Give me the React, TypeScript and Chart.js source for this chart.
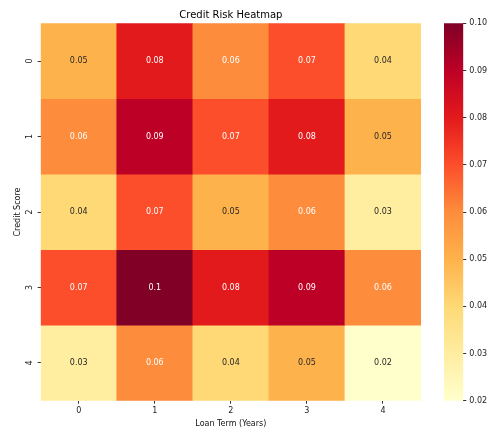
import React, { useEffect, useRef } from "react";
import { Chart, registerables } from "chart.js";

Chart.register(...registerables);

const xLabels = ["0", "1", "2", "3", "4"];
const yLabels = ["0", "1", "2", "3", "4"];
const row0 = [0.05, 0.08, 0.06, 0.07, 0.04];
const row1 = [0.06, 0.09, 0.07, 0.08, 0.05];
const row2 = [0.04, 0.07, 0.05, 0.06, 0.03];
const row3 = [0.07, 0.1, 0.08, 0.09, 0.06];
const row4 = [0.03, 0.06, 0.04, 0.05, 0.02];
const rows = [row0, row1, row2, row3, row4];
const cbarTicks = [0.02, 0.03, 0.04, 0.05, 0.06, 0.07, 0.08, 0.09, 0.1];
const vmin = 0.02;
const vmax = 0.1;
const stops = ["#ffffcc", "#ffeda0", "#fed976", "#feb24c", "#fd8d3c", "#fc4e2a", "#e31a1c", "#bd0026", "#800026"];

const FONT = "'DejaVu Sans', sans-serif";

function hexToRgb(h: string) {
  return [parseInt(h.slice(1, 3), 16), parseInt(h.slice(3, 5), 16), parseInt(h.slice(5, 7), 16)];
}

function colorRgb(v: number) {
  let t = (v - vmin) / (vmax - vmin);
  t = Math.max(0, Math.min(1, t));
  const pos = t * (stops.length - 1);
  const i = Math.min(Math.floor(pos), stops.length - 2);
  const f = pos - i;
  const a = hexToRgb(stops[i]);
  const b = hexToRgb(stops[i + 1]);
  return [0, 1, 2].map((k) => Math.round(a[k] + (b[k] - a[k]) * f));
}

function colorFor(v: number) {
  const c = colorRgb(v);
  return `rgb(${c[0]},${c[1]},${c[2]})`;
}

function textColorFor(v: number) {
  const c = colorRgb(v).map((x) => {
    const s = x / 255;
    return s <= 0.03928 ? s / 12.92 : Math.pow((s + 0.055) / 1.055, 2.4);
  });
  const lum = 0.2126 * c[0] + 0.7152 * c[1] + 0.0722 * c[2];
  return lum > 0.408 ? "#262626" : "#ffffff";
}

const annotPlugin = {
  id: "annot",
  afterDatasetsDraw(chart: any) {
    const ctx = chart.ctx;
    ctx.save();
    ctx.font = `8px ${FONT}`;
    ctx.textAlign = "center";
    ctx.textBaseline = "middle";
    chart.data.datasets.forEach((ds: any, di: number) => {
      const meta = chart.getDatasetMeta(di);
      meta.data.forEach((el: any, i: number) => {
        const p = el.getProps(["x", "y", "base"], true);
        const v = rows[di][i];
        ctx.fillStyle = textColorFor(v);
        ctx.fillText(String(v), p.x, (p.y + p.base) / 2);
      });
    });
    ctx.restore();
  },
};

export default function App() {
  const mainRef = useRef<HTMLCanvasElement>(null);
  const cbarRef = useRef<HTMLCanvasElement>(null);

  useEffect(() => {
    Chart.defaults.font.family = FONT;
    const main = new Chart(mainRef.current!, {
      type: "bar",
      data: {
        labels: xLabels,
        datasets: rows.map((row, r) => ({
          label: yLabels[r],
          data: row.map(() => [r, r + 1]),
          backgroundColor: row.map((v) => colorFor(v)),
          borderWidth: 0,
          barPercentage: 1,
          categoryPercentage: 1,
          grouped: false,
        })) as any,
      },
      options: {
        responsive: false,
        animation: false,
        layout: { padding: { left: 0, top: 0, right: 68, bottom: 0 } },
        plugins: {
          legend: { display: false },
          tooltip: { enabled: false },
          title: {
            display: true,
            text: "Credit Risk Heatmap",
            fullSize: false,
            color: "#000",
            font: { size: 10, weight: "normal", family: FONT },
            padding: { top: 9, bottom: 2.3 },
          },
        },
        scales: {
          x: {
            type: "category",
            offset: true,
            grid: { display: true, drawOnChartArea: false, drawTicks: true, tickLength: 3, offset: false, color: "#333", tickColor: "#333" },
            border: { display: false },
            ticks: { color: "#222", font: { size: 8, family: FONT }, padding: 2, maxRotation: 0, minRotation: 0 },
            title: { display: true, text: "Loan Term (Years)", color: "#111", font: { size: 8, family: FONT }, padding: { top: 0, bottom: 2.7 } },
            afterFit: (s: any) => { s.height = 30.3; },
          },
          y: {
            type: "linear",
            min: 0,
            max: 5,
            reverse: true,
            afterBuildTicks: (s: any) => { s.ticks = yLabels.map((_, i) => ({ value: i + 0.5 })); },
            grid: { display: true, drawOnChartArea: false, drawTicks: true, tickLength: 3, offset: false, color: "#333", tickColor: "#333" },
            border: { display: false },
            ticks: {
              color: "#222",
              font: { size: 8, family: FONT },
              padding: 5.7,
              minRotation: 90,
              maxRotation: 90,
              crossAlign: "center",
              autoSkip: false,
              callback: (v: any) => yLabels[Math.floor(Number(v))],
            },
            title: { display: true, text: "Credit Score", color: "#111", font: { size: 8, family: FONT }, padding: { top: 13, bottom: 0 } },
            afterFit: (s: any) => { s.width = 40.7; },
          },
        },
      } as any,
      plugins: [annotPlugin],
    });

    const cbar = new Chart(cbarRef.current!, {
      type: "bar",
      data: {
        labels: [""],
        datasets: [
          {
            data: [[vmin, vmax]] as any,
            borderWidth: 0,
            barPercentage: 1,
            categoryPercentage: 1,
            backgroundColor: (ctx: any) => {
              const area = ctx.chart.chartArea;
              if (!area) return stops[0];
              const g = ctx.chart.ctx.createLinearGradient(0, area.bottom, 0, area.top);
              stops.forEach((c, i) => g.addColorStop(i / (stops.length - 1), c));
              return g;
            },
          },
        ],
      },
      options: {
        responsive: false,
        animation: false,
        layout: { padding: { left: 0, top: 23.3, right: 0, bottom: 30.3 } },
        plugins: { legend: { display: false }, tooltip: { enabled: false }, title: { display: false } },
        scales: {
          x: { display: false, offset: true },
          y: {
            position: "right",
            min: vmin,
            max: vmax,
            afterBuildTicks: (s: any) => { s.ticks = cbarTicks.map((v) => ({ value: v })); },
            grid: { display: true, drawOnChartArea: false, drawTicks: true, tickLength: 3, color: "#333", tickColor: "#333" },
            border: { display: false },
            ticks: { color: "#222", font: { size: 8, family: FONT }, padding: 3, callback: (v: any) => Number(v).toFixed(2) },
            afterFit: (s: any) => { s.width = 25.7; },
          },
        },
      } as any,
    });

    return () => {
      main.destroy();
      cbar.destroy();
    };
  }, []);

  return (
    <div style={{ position: "fixed", left: 0, top: 0, width: 489, height: 431, background: "#fff" }}>
      <canvas ref={mainRef} width={489} height={431} style={{ position: "absolute", left: 0, top: 0 }} />
      <canvas ref={cbarRef} width={45} height={431} style={{ position: "absolute", left: 444, top: 0 }} />
    </div>
  );
}
